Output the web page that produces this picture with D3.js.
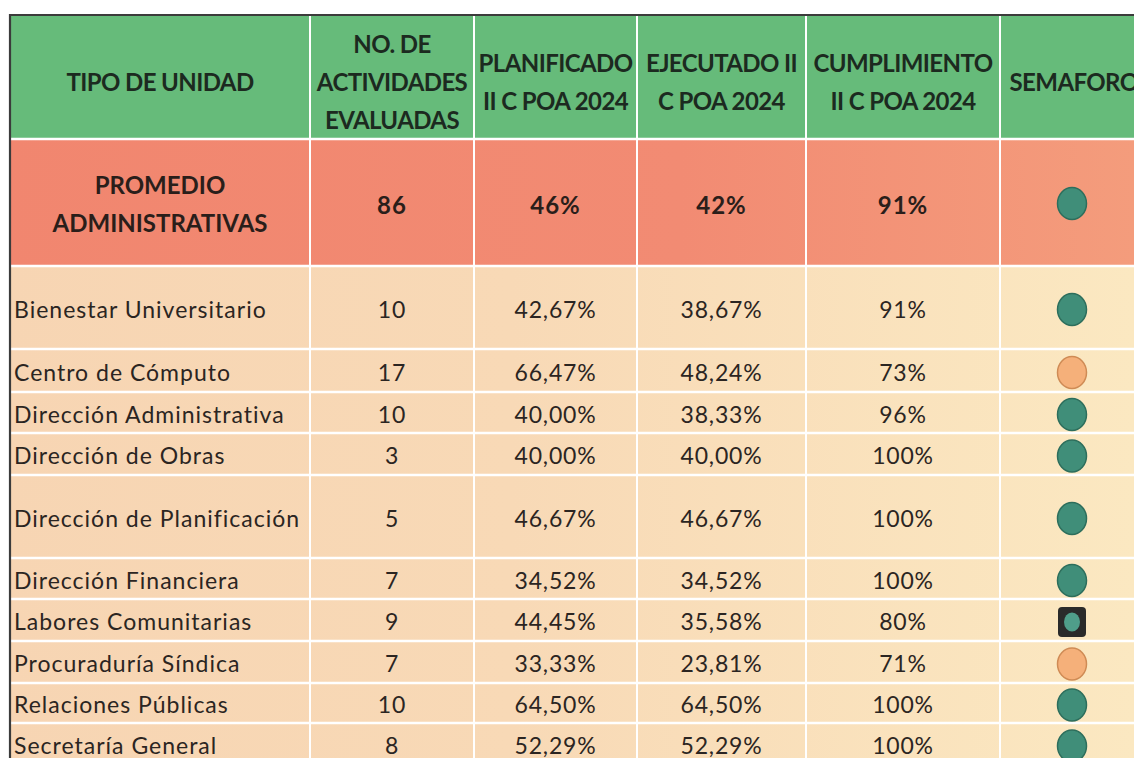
<!DOCTYPE html>
<html>
<head>
<meta charset="utf-8">
<script src="https://cdn.jsdelivr.net/npm/d3@7"></script>
<style>
  html, body { margin: 0; padding: 0; background: #fff; overflow: hidden; }
  svg { display: block; font-family: Lato, "Open Sans", sans-serif; }
</style>
</head>
<body>
<div id="chart"></div>
<script>
var headers = [
  ["TIPO DE UNIDAD"],
  ["NO. DE", "ACTIVIDADES", "EVALUADAS"],
  ["PLANIFICADO", "II C POA 2024"],
  ["EJECUTADO II", "C POA 2024"],
  ["CUMPLIMIENTO", "II C POA 2024"],
  ["SEMAFORO"]
];
var promedioLabel = ["PROMEDIO", "ADMINISTRATIVAS"];
var promedioValues = [86, 46, 42, 91];
var promedioSemaforo = "verde";

var unidades = ["Bienestar Universitario", "Centro de Cómputo", "Dirección Administrativa",
  "Dirección de Obras", "Dirección de Planificación", "Dirección Financiera",
  "Labores Comunitarias", "Procuraduría Síndica", "Relaciones Públicas", "Secretaría General"];
var actividades = [10, 17, 10, 3, 5, 7, 9, 7, 10, 8];
var planificado = [42.67, 66.47, 40.00, 40.00, 46.67, 34.52, 44.45, 33.33, 64.50, 52.29];
var ejecutado = [38.67, 48.24, 38.33, 40.00, 46.67, 34.52, 35.58, 23.81, 64.50, 52.29];
var cumplimiento = [91, 73, 96, 100, 100, 100, 80, 71, 100, 100];
var semaforo = ["verde", "naranja", "verde", "verde", "verde", "verde", "cuadro", "naranja", "verde", "verde"];

// layout
var W = 1134, H = 758;
var colEdges = [10, 310, 474, 637, 806, 1000, 1150];
var rowHeights = [124, 127, 83, 43, 41, 42, 83, 41, 42, 42, 40, 42];
var top0 = 15;
var rowEdges = [top0];
rowHeights.forEach(function(h){ rowEdges.push(rowEdges[rowEdges.length-1] + h); });

var colC = function(i){ return (colEdges[i] + colEdges[i+1]) / 2; };
var rowY = function(i){ return rowEdges[i]; };
var rowC = function(i){ return (rowEdges[i] + rowEdges[i+1]) / 2; };

var loc = d3.formatLocale({decimal: ",", thousands: ".", grouping: [3], currency: ["", "$"]});
var f2 = loc.format(".2f");
var pct2 = function(v){ return f2(v) + "%"; };
var pct0 = function(v){ return v + "%"; };

var svg = d3.select("#chart").append("svg").attr("width", W).attr("height", H);
var defs = svg.append("defs");

var gBody = defs.append("linearGradient").attr("id", "gBody")
  .attr("gradientUnits", "userSpaceOnUse").attr("x1", 0).attr("x2", W).attr("y1", 0).attr("y2", 0);
gBody.append("stop").attr("offset", 0).attr("stop-color", "#f7d5b3");
gBody.append("stop").attr("offset", 0.45).attr("stop-color", "#f8d9b6");
gBody.append("stop").attr("offset", 1).attr("stop-color", "#fbe8c1");

var gProm = defs.append("linearGradient").attr("id", "gProm")
  .attr("gradientUnits", "userSpaceOnUse").attr("x1", 0).attr("x2", W).attr("y1", 0).attr("y2", 0);
gProm.append("stop").attr("offset", 0).attr("stop-color", "#f1866f");
gProm.append("stop").attr("offset", 0.6).attr("stop-color", "#f28b73");
gProm.append("stop").attr("offset", 1).attr("stop-color", "#f49c7c");

// backgrounds
svg.append("rect").attr("x", colEdges[0]).attr("y", rowY(0))
  .attr("width", W - colEdges[0]).attr("height", rowHeights[0]).attr("fill", "#66bb7a");
svg.append("rect").attr("x", colEdges[0]).attr("y", rowY(1))
  .attr("width", W - colEdges[0]).attr("height", rowHeights[1]).attr("fill", "url(#gProm)");
svg.append("rect").attr("x", colEdges[0]).attr("y", rowY(2))
  .attr("width", W - colEdges[0]).attr("height", H - rowY(2)).attr("fill", "url(#gBody)");

// grid lines
svg.selectAll("line.h").data(rowEdges.slice(1)).enter().append("line")
  .attr("class", "h")
  .attr("x1", colEdges[0]).attr("x2", W)
  .attr("y1", function(d){ return d; }).attr("y2", function(d){ return d; })
  .attr("stroke", "#fff").attr("stroke-width", 2.5);
svg.selectAll("line.v").data(colEdges.slice(1, 6)).enter().append("line")
  .attr("class", "v")
  .attr("y1", top0).attr("y2", H)
  .attr("x1", function(d){ return d; }).attr("x2", function(d){ return d; })
  .attr("stroke", "#fff").attr("stroke-width", 2);

// outer border (top & left)
svg.append("path")
  .attr("d", "M" + colEdges[0] + "," + H + "V" + top0 + "H" + W)
  .attr("fill", "none").attr("stroke", "#3b3b3b").attr("stroke-width", 2.2);

// header text
var lh = 38;
headers.forEach(function(lines, i){
  var cx = i === 5 ? 1074 : colC(i);
  var cy = rowC(0) + 6 - (lines.length - 1) * lh / 2;
  var t = svg.append("text").attr("text-anchor", "middle")
    .attr("font-weight", 700).attr("font-size", 24).attr("fill", "#1c2a20")
    .attr("letter-spacing", -0.6);
  lines.forEach(function(s, k){
    t.append("tspan").attr("x", cx).attr("y", cy + k * lh).attr("dy", "0.35em").text(s);
  });
});

// promedio row
var pt = svg.append("text").attr("text-anchor", "middle")
  .attr("font-weight", 700).attr("font-size", 24).attr("fill", "#2a1e1a").attr("letter-spacing", 0);
promedioLabel.forEach(function(s, k){
  pt.append("tspan").attr("x", colC(0)).attr("y", rowC(1) - 19 + k * 38 + 2).attr("dy", "0.35em").text(s);
});
var promTexts = [String(promedioValues[0]), pct0(promedioValues[1]), pct0(promedioValues[2]), pct0(promedioValues[3])];
svg.selectAll("text.prom").data(promTexts).enter().append("text")
  .attr("class", "prom").attr("text-anchor", "middle")
  .attr("x", function(d, i){ return colC(i + 1); })
  .attr("y", rowC(1) + 3).attr("dy", "0.35em")
  .attr("font-weight", 700).attr("font-size", 24).attr("fill", "#2a1e1a").attr("letter-spacing", 1)
  .text(function(d){ return d; });

// body rows
var rows = unidades.map(function(u, i){
  return { unidad: u, act: actividades[i], plan: planificado[i], ejec: ejecutado[i],
           cump: cumplimiento[i], sem: semaforo[i], r: i + 2 };
});

var gRows = svg.selectAll("g.row").data(rows).enter().append("g").attr("class", "row")
  .attr("transform", function(d){ return "translate(0," + (rowC(d.r) + 2) + ")"; });

gRows.append("text").attr("x", colEdges[0] + 4).attr("dy", "0.35em")
  .attr("font-size", 23).attr("fill", "#2b2522").attr("letter-spacing", 1)
  .text(function(d){ return d.unidad; });

var cellFns = [
  function(d){ return String(d.act); },
  function(d){ return pct2(d.plan); },
  function(d){ return pct2(d.ejec); },
  function(d){ return pct0(d.cump); }
];
cellFns.forEach(function(fn, k){
  gRows.append("text").attr("x", colC(k + 1)).attr("dy", "0.35em")
    .attr("text-anchor", "middle").attr("font-size", 23).attr("fill", "#2b2522")
    .attr("letter-spacing", 0.8)
    .text(fn);
});

// semaforo markers
var semX = 1072;
function drawMarker(g, kind){
  if (kind === "cuadro") {
    g.append("rect").attr("x", semX - 14).attr("y", -15).attr("width", 28).attr("height", 30)
      .attr("rx", 4).attr("fill", "#2a2a2a");
    g.append("ellipse").attr("cx", semX).attr("cy", 0).attr("rx", 8).attr("ry", 9.5)
      .attr("fill", "#4f9e8a");
  } else {
    var fill = kind === "verde" ? "#408e79" : "#f5b07a";
    var stroke = kind === "verde" ? "#2d6e5c" : "#cf8b55";
    g.append("ellipse").attr("cx", semX).attr("cy", 0).attr("rx", 14.5).attr("ry", 16)
      .attr("fill", fill).attr("stroke", stroke).attr("stroke-width", 1.5);
  }
}
gRows.each(function(d){ drawMarker(d3.select(this), d.sem); });
drawMarker(svg.append("g").attr("transform", "translate(0," + (rowC(1) + 1) + ")"), promedioSemaforo);
</script>
</body>
</html>
